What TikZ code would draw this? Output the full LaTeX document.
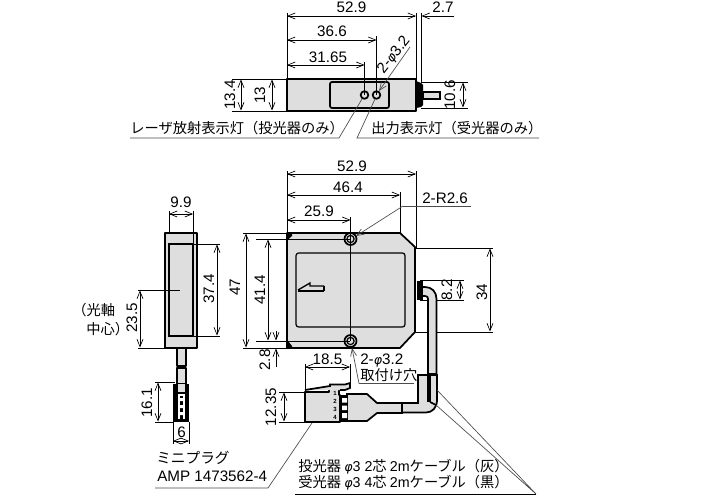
\documentclass[tikz,border=0pt]{standalone}
\usepackage{fontspec}
\setmainfont{Liberation Sans}
\newfontfamily\jpf{Noto Sans CJK JP}
\usetikzlibrary{arrows.meta}
\definecolor{bodygrey}{gray}{0.87}
\definecolor{leadgrey}{gray}{0.3}
\tikzset{
 dimline/.style={line width=0.5pt,{Straight Barb[length=5.5pt,width=4.5pt]}-{Straight Barb[length=5.5pt,width=4.5pt]}},
 dimone/.style={line width=0.5pt,-{Straight Barb[length=5.5pt,width=4.5pt]}},
 extline/.style={line width=0.55pt},
 leader/.style={line width=0.5pt,draw=leadgrey},
 outline/.style={line width=1.3pt,draw=black,fill=bodygrey,line join=round},
 thickline/.style={line width=1.3pt},
 lbl/.style={inner sep=0pt,font=\fontsize{11.4pt}{13pt}\selectfont},
 jlbl/.style={inner sep=0pt,anchor=west,font=\fontsize{10.7pt}{12pt}\selectfont\jpf},
 pinno/.style={inner sep=0pt,font=\fontsize{4.5pt}{5pt}\selectfont\bfseries},
}
\newcommand{\phisym}{{\itshape\fontspec{DejaVu Sans}\fontsize{9.5pt}{10pt}\selectfont φ}}
\newcommand{\lat}[1]{{\fontspec{Liberation Sans}#1}}
\begin{document}
\begin{tikzpicture}[x=0.75pt,y=-0.75pt]
\useasboundingbox (0,0) rectangle (702,499);
\fill[white] (0,0) rectangle (702,499);
% ---------- top view
\fill[black] (416,81) -- (421,83) -- (423,85) -- (423,105) -- (421,107) -- (416,108) -- cycle;
\draw[thickline,fill=bodygrey] (423,92) rectangle (440,99);
\draw[outline,line width=0.9pt] (287,79) rectangle (416,111);
\draw[line width=1.5pt] (287,79) -- (287,111);
\draw[thickline,rounded corners=1.5pt] (330,82) rectangle (389,108);
\draw[thickline,fill=bodygrey] (364.5,95) circle (3.8);
\draw[thickline,fill=bodygrey] (376.5,95) circle (3.8);
\coordinate (a1) at (287,16); \coordinate (a2) at (416,16);
\draw[dimline] (a1) -- (a2);
\draw[extline] (287,13) -- (287,79) (416,13) -- (416,79) (421,13) -- (421,82);
\draw[dimone] (454,16) -- (421.5,16);
\draw[dimline] (287,40) -- (376.5,40);
\draw[extline] (376.5,36) -- (376.5,95);
\draw[dimline] (287,65) -- (364.5,65);
\draw[extline] (364.5,62) -- (364.5,95);
\node[lbl] (t529) at (351.5,7) {52.9};
\node[lbl] (t27) at (443,7) {2.7};
\node[lbl] (t366) at (332,31) {36.6};
\node[lbl] (t3165) at (328,57) {31.65};
\node[lbl,rotate=52] (tphi) at (394,55) {2-\phisym 3.2};
\coordinate (phiend) at (410,47); \coordinate (phitip) at (379,91);
\draw[leader,dimone] (phiend) -- (phitip);
\draw[extline] (232,79) -- (287,79) (232,111) -- (287,111);
\draw[dimline] (241,79.5) -- (241,110.5);
\draw[dimline] (272,79.5) -- (272,110.5);
\node[lbl,rotate=90] (t134) at (230,95) {13.4};
\node[lbl,rotate=90] (t13) at (260,95) {13};
\draw[extline] (421,82) -- (468,82) (421,108) -- (468,108);
\draw[dimline] (463,82.5) -- (463,107.5);
\node[lbl,rotate=90] (t106) at (450,95) {10.6};
\coordinate (l1a) at (130,138); \coordinate (l1b) at (339,138); \coordinate (l1c) at (362,99);
\draw[leader] (l1a) -- (l1b) -- (l1c);
\coordinate (l2a) at (539,138); \coordinate (l2b) at (357,138); \coordinate (l2c) at (375,99);
\draw[leader] (l2a) -- (l2b) -- (l2c);
\node[jlbl] (tlaser) at (130,128) {レーザ放射表示灯（投光器のみ）};
\node[jlbl] (tout) at (371,128) {出力表示灯（受光器のみ）};
% ---------- side view
\draw[outline] (165,233) rectangle (197,348);
\draw[line width=1.5pt] (169,244) rectangle (193,336);
\draw[outline,line width=0.9pt] (177,348) rectangle (186,366);
\draw[outline,line width=0.9pt] (177,368) rectangle (186,384);
\fill[black] (173,384) rectangle (189,422);
\fill[bodygrey] (178,384) rectangle (185,392);
\fill[white] (178,394) rectangle (185,419);
\fill[black] (180,396) rectangle (183,419);
\fill[white] (180,398) rectangle (183,401) (180,405) rectangle (183,408) (180,412) rectangle (183,415);
\draw[extline] (169,211) -- (169,233) (193,211) -- (193,244);
\draw[dimline] (169,214) -- (193,214);
\node[lbl] (t99) at (181,202.5) {9.9};
\draw[extline] (193,244) -- (220,244) (193,336) -- (220,336);
\draw[dimline] (217,244.5) -- (217,335.5);
\node[lbl,rotate=90] (t374) at (209,289) {37.4};
\draw[extline] (138,290) -- (180,290) (138,348) -- (165,348);
\draw[dimline] (140,290.5) -- (140,347.5);
\node[lbl,rotate=90] (t235) at (132,318) {23.5};
\node[jlbl] (tko) at (72,310) {（光軸};
\node[jlbl] (tch) at (86,329) {中心）};
\draw[extline] (155,382) -- (175,382) (155,422) -- (173,422);
\draw[dimline] (158,382.5) -- (158,421.5);
\node[lbl,rotate=90] (t161) at (147,403) {16.1};
\draw[extline] (173,422) -- (173,444) (189,422) -- (189,444);
\draw[dimline] (173,441) -- (189,441);
\node[lbl] (t6) at (181.5,432) {6};
% ---------- front view
\draw[outline] (287,233) -- (400,233) -- (415,247) -- (415,332) -- (400,348) -- (287,348) -- cycle;
\draw[line width=1.8pt] (415,254) -- (415,326);
\fill[black] (287,233) -- (292,233) -- (292,236) -- (288.5,239) -- (287,239) -- cycle;
\fill[black] (287,348) -- (292,348) -- (292,346) -- (288,341) -- (287,341) -- cycle;
\draw[line width=0.9pt,rounded corners=2pt] (296,253) rectangle (405,327);
\draw[line width=1pt] (298,290) -- (310,283) -- (310,286) -- (324,286);
\draw[line width=1.5pt] (298,291) -- (324,291);
\draw[line width=1pt] (324,286) -- (324,291);
\draw[thickline,fill=bodygrey] (350.5,239) circle (6);
\draw[line width=0.9pt,fill=bodygrey] (350.5,239) circle (3.6);
\draw[thickline,fill=bodygrey] (350.5,341) circle (6);
\draw[line width=0.9pt,fill=bodygrey] (350.5,341) circle (3.6);
\draw[extline] (350.5,217) -- (350.5,341);
\draw[dimline] (287,174) -- (416,174);
\draw[extline] (287,171) -- (287,233) (416,171) -- (416,248);
\node[lbl] (f529) at (352,166) {52.9};
\draw[dimline] (287,195) -- (400,195);
\draw[extline] (400,192) -- (400,233);
\node[lbl] (f464) at (348,187.5) {46.4};
\draw[dimline] (287,220) -- (350.5,220);
\node[lbl] (f259) at (319,211) {25.9};
\node[lbl,anchor=west] (fr) at (422,198) {2-R2.6};
\coordinate (ra) at (471,206); \coordinate (rb) at (403,206); \coordinate (rc) at (356,236);
\draw[leader] (ra) -- (rb);
\draw[leader,dimone] (rb) -- (rc);
\draw[extline] (243,233) -- (287,233) (243,348) -- (287,348);
\draw[dimline] (246,233.5) -- (246,347.5);
\node[lbl,rotate=90] (f47) at (235,287) {47};
\draw[extline] (256,239) -- (350,239) (256,341) -- (350,341);
\draw[dimline] (268,239.5) -- (268,340.5);
\node[lbl,rotate=90] (f414) at (260,290) {41.4};
\draw[dimone] (276,331) -- (276,340.5);
\draw[dimone] (276,367) -- (276,348.5);
\node[lbl,rotate=90] (f28) at (265,360) {2.8};
\draw[extline] (415,248) -- (493,248) (415,332) -- (493,332);
\draw[dimline] (490,248.5) -- (490,331.5);
\node[lbl,rotate=90] (f34) at (482,292) {34};
\draw[extline] (420,280) -- (464,280) (420,300) -- (464,300);
\draw[dimline] (460,280.5) -- (460,299.5);
\node[lbl,rotate=90] (f82) at (447,290) {8.2};
% ---------- cable
\fill[black] (417,281) rectangle (423,300);
\draw[thickline,fill=bodygrey] (423,287) -- (425,287) .. controls (432,287) and (436.5,292) .. (436.5,299) -- (436.5,374) -- (428,374) -- (428,299) .. controls (428,297) and (427,296) .. (425,296) -- (423,296);
\draw[thickline,fill=bodygrey] (418,375) -- (437,375) -- (437,400) .. controls (437,408) and (432,412.5) .. (426,412.5) -- (402,412.5) -- (402,403) -- (418,403) -- cycle;
\fill[black] (427,375) rectangle (430.5,402);
\draw[thickline] (430,402) -- (436,405);
\draw[thickline,fill=bodygrey] (347,394) -- (367,394) -- (377,403) -- (402,403) -- (402,413) -- (377,413) -- (367,421) -- (347,421) -- cycle;
\draw[thickline] (402,402) -- (402,413);
% plug
\fill[black] (340,395) rectangle (347,422);
\fill[white] (342,398) rectangle (347,402.5) (342,405.5) rectangle (347,410) (342,413) rectangle (347,418);
\draw[outline] (305,392) -- (329,392) -- (329,388) -- (339,388) -- (339,395) -- (340,395) -- (340,422) -- (305,422) -- cycle;
\draw[thickline,fill=bodygrey] (305,390) -- (330,386) -- (330,384.5) -- (345,384.5) -- (350,383) -- (350,388) -- (345,390) -- (340,390);
\node[pinno] (p1) at (335,393.5) {1};
\node[pinno] (p2) at (335,401) {2};
\node[pinno] (p3) at (335,409) {3};
\node[pinno] (p4) at (335,417) {4};
\draw[extline] (305,364) -- (305,392) (350,364) -- (350,384);
\draw[dimline] (305,367) -- (350,367);
\node[lbl] (f185) at (327.5,359) {18.5};
\draw[extline] (279,392) -- (305,392) (279,422) -- (305,422);
\draw[dimline] (284,392.5) -- (284,421.5);
\node[lbl,rotate=90] (f1235) at (271,407) {12.35};
\node[lbl,anchor=west] (fhole) at (360,361) {2-\phisym 3.2};
\node[jlbl] (fhole2) at (360,375) {取付け穴};
\coordinate (ha) at (414,383.5); \coordinate (hb) at (359,383.5); \coordinate (hc) at (352,348);
\draw[leader] (ha) -- (hb);
\draw[leader,dimone] (hb) -- (hc);
\node[jlbl,font=\fontsize{11pt}{12pt}\selectfont\jpf] (tmini) at (156,458) {ミニプラグ};
\node[lbl,anchor=west] (tamp) at (157,476) {AMP 1473562-4};
\coordinate (ma) at (155,488); \coordinate (mb) at (268,488); \coordinate (mc) at (312,423);
\draw[leader] (ma) -- (mb) -- (mc);
\node[jlbl] (c1) at (298,467) {投光器 \phisym\lat{3 2}芯 \lat{2m}ケーブル（灰）};
\node[jlbl] (c2) at (298,483) {受光器 \phisym\lat{3 4}芯 \lat{2m}ケーブル（黒）};
\coordinate (ua) at (295,494); \coordinate (ub) at (536,494); \coordinate (uc) at (437,390); \coordinate (ud) at (436,405);
\draw[line width=0.6pt] (ua) -- (ub);
\draw[leader] (uc) -- (ub) -- (ud);
\end{tikzpicture}
\end{document}
